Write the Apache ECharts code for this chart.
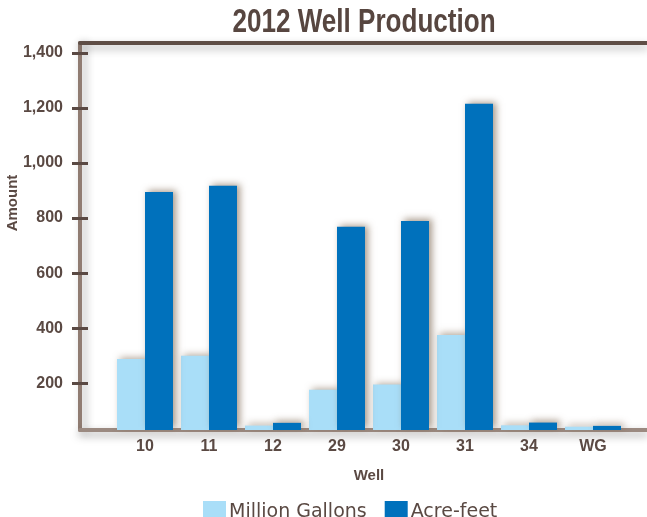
<!DOCTYPE html>
<html>
<head>
<meta charset="utf-8">
<script src="https://cdn.jsdelivr.net/npm/echarts@6/dist/echarts.min.js"></script>
<style>html,body{margin:0;padding:0;background:#fff;}#c{width:647px;height:517px;}</style>
</head>
<body>
<div id="c"></div>
<script>
var categories = ['10', '11', '12', '29', '30', '31', '34', 'WG'];
var millionGallons = [288, 300, 46, 176, 195, 375, 47, 42];
var acreFeet = [895, 917, 56, 768, 789, 1215, 57, 45];
var yTicks = [200, 400, 600, 800, 1000, 1200, 1400];
var yMin = 30, yMax = 1436;

var textColor = '#5a4943';
var labelFont = 'Liberation Sans, Arial, sans-serif';
function fmt(v) { return String(v).replace(/\B(?=(\d{3})+(?!\d))/g, ','); }

var chart = echarts.init(document.getElementById('c'));
chart.setOption({
  animation: false,
  backgroundColor: '#ffffff',
  legend: {
    left: 198, top: 496,
    itemWidth: 23, itemHeight: 22, itemGap: 18,
    icon: 'rect',
    textStyle: { fontFamily: 'DejaVu Sans, sans-serif', fontSize: 19, color: textColor, padding: [0, 0, 0, -2] },
    data: ['Million Gallons', 'Acre-feet']
  },
  graphic: [{
    type: 'text', x: 364, y: 23, scaleX: 0.79,
    style: { text: '2012 Well Production', align: 'center', verticalAlign: 'middle', font: 'bold 33px Liberation Sans, Arial, sans-serif', fill: '#574640' }
  }, {
    type: 'text', x: 13, y: 203, rotation: Math.PI / 2,
    style: { text: 'Amount', align: 'center', verticalAlign: 'middle', font: 'bold 15px Liberation Sans, Arial, sans-serif', fill: textColor }
  }],
  grid: [
    { left: 80, right: 0, top: 43, bottom: 87 },
    { left: 113, right: 22, top: 43, bottom: 87 }
  ],
  xAxis: [
    { gridIndex: 0, type: 'value', min: 0, max: 1, position: 'bottom',
      axisLine: { show: true, lineStyle: { color: '#9b8a81', width: 4, shadowColor: 'rgba(0,0,0,0.35)', shadowBlur: 8, shadowOffsetY: 4 } },
      axisTick: { show: false }, axisLabel: { show: false }, splitLine: { show: false } },
    { gridIndex: 0, type: 'value', min: 0, max: 1, position: 'top',
      axisLine: { show: true, lineStyle: { color: '#5f4e46', width: 4, shadowColor: 'rgba(0,0,0,0.3)', shadowBlur: 8, shadowOffsetY: 4 } },
      axisTick: { show: false }, axisLabel: { show: false }, splitLine: { show: false } },
    { gridIndex: 1, type: 'category', data: categories,
      axisLine: { show: false }, axisTick: { show: false },
      axisLabel: { margin: 9, fontFamily: labelFont, fontWeight: 'bold', fontSize: 16, color: textColor },
      name: 'Well', nameLocation: 'middle', nameGap: 38,
      nameTextStyle: { fontFamily: labelFont, fontWeight: 'bold', fontSize: 15, color: textColor } }
  ],
  yAxis: [
    { gridIndex: 0, type: 'value', min: yMin, max: yMax, position: 'left',
      axisLine: { show: true, lineStyle: { color: '#907c72', width: 4, shadowColor: 'rgba(0,0,0,0.3)', shadowBlur: 8, shadowOffsetX: 4 } },
      axisTick: { show: true, length: 8, customValues: yTicks, lineStyle: { color: '#5a4943', width: 3 } },
      axisLabel: { margin: 17, customValues: yTicks, formatter: fmt, fontFamily: labelFont, fontWeight: 'bold', fontSize: 16, color: textColor },
      splitLine: { show: false } },
    { gridIndex: 0, type: 'value', min: yMin, max: yMax, position: 'left',
      axisLine: { show: false },
      axisTick: { show: true, inside: true, length: 8, customValues: yTicks, lineStyle: { color: '#5a4943', width: 3 } },
      axisLabel: { show: false }, splitLine: { show: false } },
    { gridIndex: 1, type: 'value', min: yMin, max: yMax, show: false, splitLine: { show: false } }
  ],
  series: [
    { name: 'Million Gallons', type: 'bar', xAxisIndex: 2, yAxisIndex: 2, data: millionGallons,
      barGap: '0%', barCategoryGap: '12.5%',
      itemStyle: { color: '#a9def8', shadowColor: 'rgba(110,85,60,0.5)', shadowBlur: 7, shadowOffsetX: 3, shadowOffsetY: -2 } },
    { name: 'Acre-feet', type: 'bar', xAxisIndex: 2, yAxisIndex: 2, data: acreFeet,
      barGap: '0%', barCategoryGap: '12.5%',
      itemStyle: { color: '#0071bc', shadowColor: 'rgba(110,85,60,0.6)', shadowBlur: 7, shadowOffsetX: 3, shadowOffsetY: -2 } }
  ]
});
</script>
</body>
</html>
